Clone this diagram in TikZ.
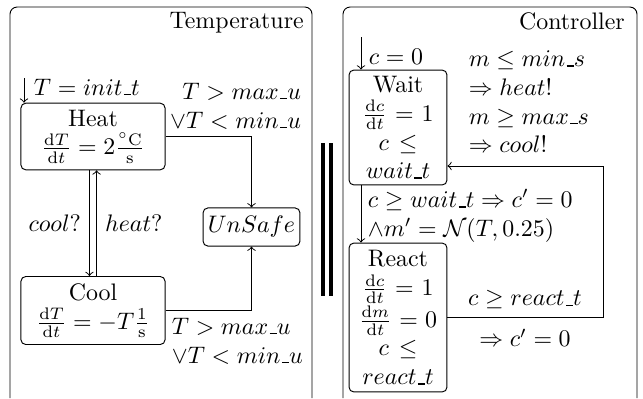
\documentclass[tikz,border=0pt]{standalone}
\usepackage{amsmath,amssymb}
\usepackage{tikz}
\usetikzlibrary{positioning}
\newcommand{\usc}{\mbox{\kern.06em\vbox{\hrule width .3em height .6pt}}}

\begin{document}
\begin{tikzpicture}[x=0.01471cm, y=-0.01471cm,
  panel/.style={draw, rounded corners=3pt},
  loc/.style={draw, rounded corners=2pt, align=center, inner sep=2pt},
  ctrl/.style={loc, text width=1.3cm},
  lbl/.style={inner sep=1pt},
  bar/.style={line width=1.3pt}
]
\useasboundingbox (0,0) rectangle (643,398);
% the two automata
\draw[panel] (10,398) |- (161,7) -| (312,398);
\draw[panel] (343,398) |- (490,7) -| (637,398);
\node[anchor=north east, inner sep=2pt] (ttl1) at (309,7) {Temperature};
\node[anchor=north east, inner sep=2pt] (ttl2) at (630,7) {Controller};
% parallel composition
\draw[bar] (323,143) -- (323,296);
\draw[bar] (331,143) -- (331,296);

% temperature automaton
\node[loc, minimum width=2.12cm, minimum height=0.98cm] (heat) at (93,136.5)
  {Heat\\ $\frac{\mathrm{d}T}{\mathrm{d}t} = 2\frac{^\circ\mathrm{C}}{\mathrm{s}}$};
\node[loc, minimum width=2.12cm, minimum height=1.0cm] (cool) at (93,310.5)
  {Cool\\ $\frac{\mathrm{d}T}{\mathrm{d}t} = -T\frac{1}{\mathrm{s}}$};
\node[loc, minimum width=1.4cm, minimum height=0.56cm] (unsafe) at (251.5,227) {$UnSafe$};
\coordinate (tinit) at (24,78);
\draw[->] (tinit) -- (tinit |- heat.north);
\node[lbl, anchor=west] (tinitl) at (31,87) {$T = init\usc t$};
\draw[->] ([xshift=-1.5pt]heat.south) -- ([xshift=-1.5pt]cool.north)
  node[midway, left] (cooll) {$cool?$};
\draw[->] ([xshift=1.5pt]cool.north) -- ([xshift=1.5pt]heat.south)
  node[midway, right] (heatl) {$heat?$};
\draw[->] (heat.east) -| (unsafe.north);
\draw[->] (cool.east) -| (unsafe.south);
\node[lbl, align=right, anchor=east] (upl) at (304,106)
  {$T > max\usc u$\\ $\vee T < min\usc u$};
\node[lbl, align=left, anchor=west] (lowl) at (169,341)
  {$T > max\usc u$\\ $\vee T < min\usc u$};

% controller automaton
\node[ctrl, minimum height=1.69cm] (wait) at (398,127.5)
  {Wait\\ $\frac{\mathrm{d}c}{\mathrm{d}t} = 1$\\ $c \leq$\\ $wait\usc t$};
\node[ctrl, minimum height=2.19cm] (react) at (398,317.5)
  {React\\ $\frac{\mathrm{d}c}{\mathrm{d}t} = 1$\\ $\frac{\mathrm{d}m}{\mathrm{d}t} = 0$\\ $c \leq$\\ $react\usc t$};
\coordinate (cinit) at (361,37);
\draw[->] (cinit) -- (cinit |- wait.north);
\node[lbl, anchor=west] (cinitl) at (366,57) {$c = 0$};
\node[lbl, align=left, anchor=west] (sendl) at (466,102)
  {$m \leq min\usc s$\\ $\Rightarrow heat!$\\ $m \geq max\usc s$\\ $\Rightarrow cool!$};
\draw[->] (cinit |- wait.south) -- (cinit |- react.north);
\node[lbl, align=left, anchor=west] (measl) at (365,216)
  {$c \geq wait\usc t \Rightarrow c' = 0$\\ $\wedge m' = \mathcal{N}(T, 0.25)$};
\coordinate (back) at (603,166);
\draw[->] (react.east |- 0,317) -| (back) -- (wait.east |- back);
\node[lbl] (resetl1) at (525,300) {$c \geq react\usc t$};
\node[lbl] (resetl2) at (525,338) {$\Rightarrow c' = 0$};
\end{tikzpicture}
\end{document}
